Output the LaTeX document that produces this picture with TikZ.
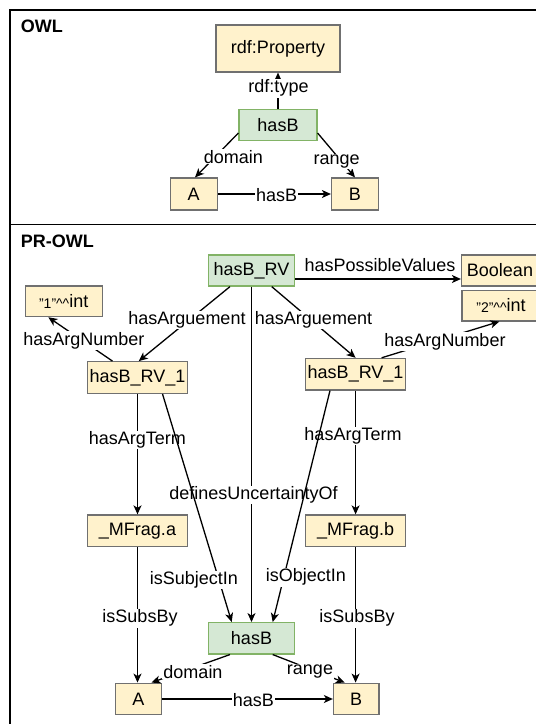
\documentclass[tikz,border=0pt]{standalone}
\usepackage{fontspec}
\setmainfont{Liberation Sans}
\usetikzlibrary{arrows.meta,calc}

\definecolor{ynfill}{HTML}{FFF2CC}
\definecolor{ynline}{HTML}{707070}
\definecolor{gnfill}{HTML}{D5E8D4}
\definecolor{gnline}{HTML}{82B366}

\tikzset{
  txt/.style={font=\fontsize{18}{20}\selectfont},
  cls/.style={txt, draw=ynline, fill=ynfill, line width=1.2pt, inner sep=0pt},
  prp/.style={txt, draw=gnline, fill=gnfill, line width=1.2pt, inner sep=0pt},
  sz/.style 2 args={minimum width=#1pt, minimum height=#2pt},
  rel/.style={draw=black, line width=1.3pt, -{Stealth[length=9pt,width=8pt,inset=2.5pt]}},
  lbl/.style={txt, fill=white, inner sep=1pt},
  frame/.style={draw=black, line width=1.4pt},
  title/.style={font=\bfseries\fontsize{18}{20}\selectfont, anchor=west, inner sep=0pt},
}

\newcommand{\typedint}[1]{\raisebox{-1pt}{\fontsize{14}{14}\selectfont"#1"\textasciicircum\textasciicircum}int}

\begin{document}
\begin{tikzpicture}[x=1pt,y=-1pt]
\useasboundingbox (0,0) rectangle (536,724);
\clip (0,0) rectangle (536,724);

% swimlane frame
\draw[frame] (570,10) -- (10,10) -- (10,760);
\draw[frame] (10,224.5) -- (570,224.5);
\node[title] (tOWL) at (20.7,26) {OWL};
\node[title] (tPROWL) at (20.7,241.7) {PR-OWL};

% ---------------- OWL ----------------
\node[cls, sz={124}{47}]   (prop)  at (278,48.5) {rdf:Property};
\node[prp, sz={78}{31.5}]  (hasB1) at (278,125)  {hasB};
\node[cls, sz={47}{32}]    (A1)    at (193.7,194) {A};
\node[cls, sz={47}{32}]    (B1)    at (355,194)   {B};

\draw[rel] (hasB1.north) -- (prop.south);
\node[lbl] (lType) at (278.5,88.3) {rdf:type};

\draw[rel] ($(hasB1.west)+(0,8)$) -- ($(A1.north)+(1.3,0)$);
\node[lbl] (lDom1) at (233.3,156.7) {domain};

\draw[rel] ($(hasB1.east)+(0,8)$) -- (B1.north);
\node[lbl] (lRan1) at (336.7,161.7) {range};

\draw[rel] (A1.east) -- (B1.west);
\node[lbl] (lHas1) at (276.7,195) {hasB};

% ---------------- PR-OWL ----------------
\node[prp, sz={85.5}{31}]   (rv)   at (251.5,270.5) {hasB\_RV};
\node[cls, sz={77}{31}]     (bool) at (500,270.5)   {Boolean};
\node[cls, sz={78}{30.3}]   (int2) at (501,305.8)   {\typedint{2}};
\node[cls, sz={77}{30.7}]   (int1) at (63.7,301.3)  {\typedint{1}};
\node[cls, sz={100}{31.6}]  (rvL)  at (137.5,377.5) {hasB\_RV\_1};
\node[cls, sz={100}{31.6}]  (rvR)  at (355.6,374.2) {hasB\_RV\_1};
\node[cls, sz={100}{31.7}]  (mfa)  at (137.5,530.8) {\_MFrag.a};
\node[cls, sz={100}{31.7}]  (mfb)  at (355.6,530.8) {\_MFrag.b};
\node[prp, sz={85.5}{31.3}] (hasB2) at (251.5,638.3) {hasB};
\node[cls, sz={45.7}{31.7}] (A2)   at (138.5,699)   {A};
\node[cls, sz={45.5}{31.7}] (B2)   at (356.2,699)   {B};

\draw[rel] ($(rv.east)+(0,8.5)$) -- ($(bool.west)+(0,8.5)$);
\node[lbl] (lPoss) at (380,265) {hasPossibleValues};

\draw[rel] ($(rv.south)+(-21.5,0)$) -- ($(rvL.north)+(1.2,0)$);
\node[lbl] (lArgL) at (187,320) {hasArguement};

\draw[rel] ($(rv.south)+(20.2,0)$) -- (rvR.north);
\node[lbl] (lArgR) at (313.5,320) {hasArguement};

\draw[rel] ($(rvL.north)+(-25,0)$) -- ($(int1.south)+(-15.4,0)$);
\node[lbl] (lNumL) at (83.8,340.7) {hasArgNumber};

\draw[rel] ($(rvR.north)+(26,0)$) -- ($(int2.south)+(-1.7,0)$);
\node[lbl] (lNumR) at (445,341.7) {hasArgNumber};

\draw[rel] (rvL) -- (mfa);
\node[lbl] (lTermL) at (137.3,440) {hasArgTerm};

\draw[rel] (rvR) -- (mfb);
\node[lbl] (lTermR) at (353,436) {hasArgTerm};

\draw[rel] (rv.south) -- (hasB2.north);
\node[lbl] (lDef) at (253.5,495) {definesUncertaintyOf};

\draw[rel] ($(rvL.south)+(25,0)$) -- ($(hasB2.north)+(-19.8,0)$);
\node[lbl] (lSubj) at (193.8,580) {isSubjectIn};

\draw[rel] ($(rvR.south)+(-25.6,0)$) -- ($(hasB2.north)+(21.2,0)$);
\node[lbl] (lObj) at (305.8,577.3) {isObjectIn};

\draw[rel] (mfa) -- (mfa |- A2.north);
\node[lbl] (lSubsL) at (140,618.3) {isSubsBy};

\draw[rel] (mfb) -- (mfb |- B2.north);
\node[lbl] (lSubsR) at (357,618.3) {isSubsBy};

\draw[rel] ($(hasB2.south)+(-21.5,0)$) -- ($(A2.north)+(13,0)$);
\node[lbl] (lDom2) at (193,671.7) {domain};

\draw[rel] ($(hasB2.south)+(21.2,0)$) -- ($(B2.north)+(-11.5,0)$);
\node[lbl] (lRan2) at (310,671.7) {range};

\draw[rel] (A2.east) -- (B2.west);
\node[lbl] (lHas2) at (253.3,700) {hasB};
\end{tikzpicture}
\end{document}
